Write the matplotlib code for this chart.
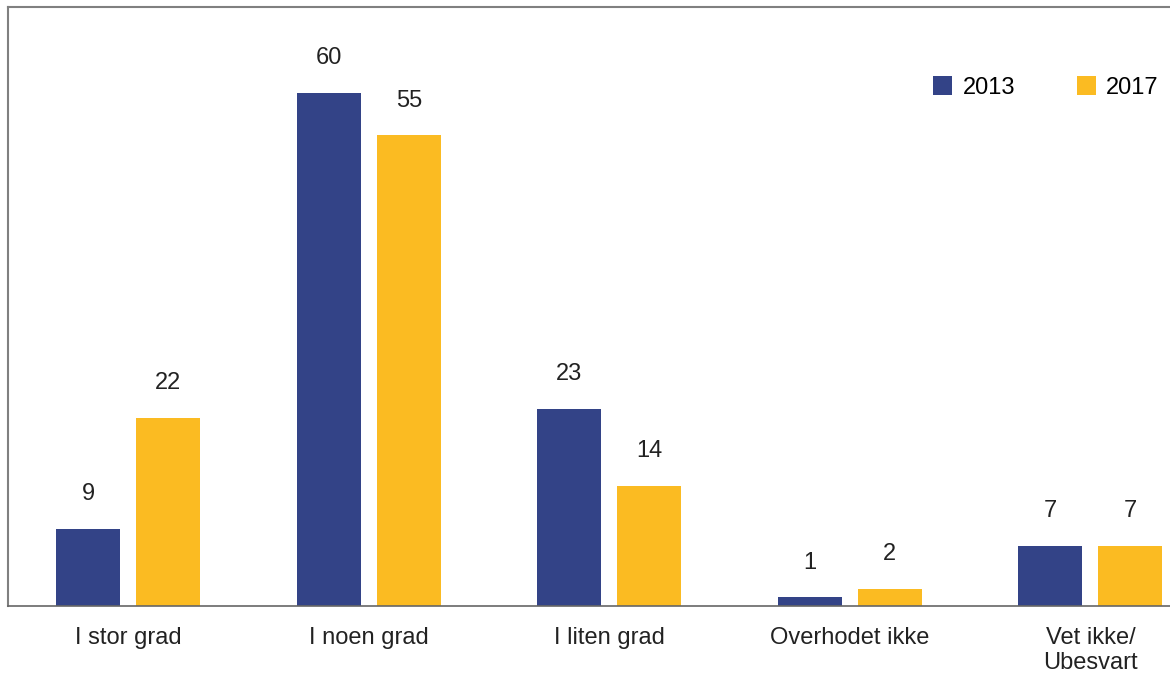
import matplotlib
matplotlib.use("Agg")
import matplotlib.pyplot as plt
import numpy as np

categories = ["I stor grad", "I noen grad", "I liten grad", "Overhodet ikke", "Vet ikke/\nUbesvart"]
series_names = ["2013", "2017"]
values_2013 = [9, 60, 23, 1, 7]
values_2017 = [22, 55, 14, 2, 7]
colors = ["#334387", "#FBBB22"]

plt.rcParams['font.family'] = ['Liberation Sans', 'DejaVu Sans']

fig = plt.figure(figsize=(11.7, 6.74), dpi=100)
ax = fig.add_axes([8/1170, (674-606)/674, 1 - 8/1170, (606-7)/674])

x = np.arange(len(categories))
bw = 64/240.6
off = 40/240.6
for vals, c, d, name in [(values_2013, colors[0], -off, series_names[0]),
                         (values_2017, colors[1], off, series_names[1])]:
    ax.bar(x + d, vals, width=bw, color=c, label=name)
    for xi, v in zip(x + d, vals):
        ax.annotate(str(v), (xi, v), xytext=(0, 25), textcoords="offset points",
                    ha="center", va="center", fontsize=17, color="#222222")

ax.set_xlim(-0.5, (1170-128)/240.6)
ax.set_ylim(0, 70)
ax.set_yticks([])
ax.set_xticks(x)
ax.set_xticklabels(categories, fontsize=17, color="#222222", linespacing=1.2)
ax.tick_params(axis='x', length=0, pad=15)
ax.spines['right'].set_visible(False)
for s in ['left', 'top']:
    ax.spines[s].set_color("#808080")
    ax.spines[s].set_linewidth(1.5)
ax.spines['bottom'].set_color("#666666")
ax.spines['bottom'].set_linewidth(1.2)

ax.legend(loc="upper left", bbox_to_anchor=((924-8)/1162, 1 - (67-7)/599), bbox_transform=ax.transAxes,
          ncol=2, frameon=False, fontsize=17, handlelength=0.8, handleheight=0.8,
          columnspacing=2.6, handletextpad=0.45, borderaxespad=0)
fig.savefig("out.png", dpi=100)
